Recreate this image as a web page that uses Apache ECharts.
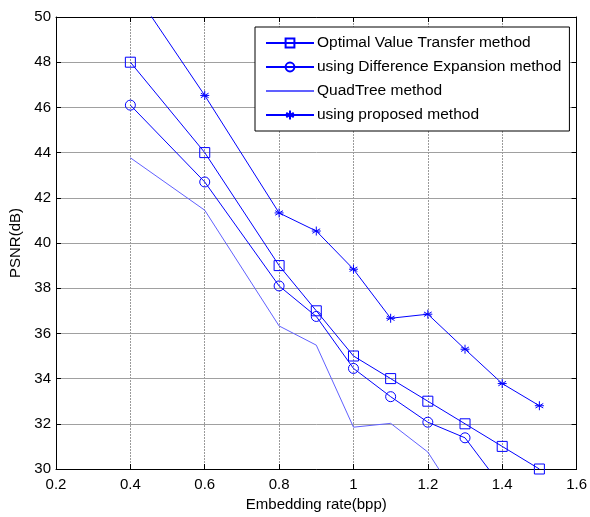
<!DOCTYPE html>
<html>
<head>
<meta charset="utf-8">
<script src="https://cdn.jsdelivr.net/npm/echarts@6/dist/echarts.min.js"></script>
<style>
  html, body { margin: 0; padding: 0; background: #fff; }
  #chart { width: 590px; height: 517px; }
</style>
</head>
<body>
<div id="chart"></div>
<script>
// embedding rate (bpp) for each curve
const rateOvt = [0.4, 0.6, 0.8, 0.9, 1.0, 1.1, 1.2, 1.3, 1.4, 1.5]
const psnrOvt = [48, 44, 39, 37, 35, 34, 33, 32, 31, 30]

const rateDe = [0.4, 0.6, 0.8, 0.9, 1.0, 1.1, 1.2, 1.3, 1.4]
const psnrDe = [46.1, 42.7, 38.1, 36.75, 34.45, 33.2, 32.07, 31.38, 29.2]

const rateQt = [0.4, 0.6, 0.8, 0.9, 1.0, 1.1, 1.2, 1.3]
const psnrQt = [43.77, 41.45, 36.33, 35.48, 31.85, 32.02, 30.75, 28.2]

const rateProp = [0.4, 0.6, 0.8, 0.9, 1.0, 1.1, 1.2, 1.3, 1.4, 1.5]
const psnrProp = [51.4, 46.53, 41.33, 40.53, 38.84, 36.67, 36.85, 35.3, 33.78, 32.8]

const seriesNames = [
  'Optimal Value Transfer method',
  'using Difference Expansion method',
  'QuadTree method',
  'using proposed method',
]

function pairs(xs, ys) {
  return xs.map((x, i) => [x, ys[i]])
}

const blue = '#0000ff'
const lightBlue = '#6060ff'
const asterisk = 'path://M5 0 L5 10 M0.7 2.5 L9.3 7.5 M0.7 7.5 L9.3 2.5 M0 5 L10 5'

const chart = echarts.init(document.getElementById('chart'))

const markerStyle = { color: 'rgba(0,0,0,0)', borderColor: blue, borderWidth: 1 }

chart.setOption({
  animation: false,
  textStyle: { fontFamily: 'Liberation Sans, Arial, sans-serif' },
  grid: { left: 56, top: 17, right: 13, bottom: 48 },
  legend: {
    orient: 'vertical',
    left: 255,
    top: 27,
    padding: [8, 8, 8, 10],
    itemWidth: 48,
    itemHeight: 11,
    itemGap: 8,
    backgroundColor: '#fff',
    borderColor: '#000',
    borderWidth: 1,
    textStyle: { fontSize: 15.5, color: '#000', padding: [0, 0, 0, -2] },
    data: [
      seriesNames[0],
      seriesNames[1],
      { name: seriesNames[2], itemStyle: { color: 'rgba(0,0,0,0)', borderColor: 'rgba(0,0,0,0)' } },
      seriesNames[3],
    ],
  },
  xAxis: [
    {
      type: 'value',
      min: 0.2,
      max: 1.6,
      interval: 0.2,
      name: 'Embedding rate(bpp)',
      nameLocation: 'middle',
      nameGap: 22,
      nameTextStyle: { fontSize: 15, color: '#000' },
      axisLine: { lineStyle: { color: '#000', width: 1 } },
      axisTick: { inside: true, length: 5, lineStyle: { color: '#000' } },
      axisLabel: { fontSize: 15, color: '#000', margin: 8 },
      splitLine: { show: true, lineStyle: { color: '#9a9a9a', type: [2, 1] } },
    },
    {
      type: 'value',
      position: 'top',
      min: 0.2,
      max: 1.6,
      interval: 0.2,
      axisLine: { lineStyle: { color: '#000' } },
      axisTick: { inside: true, length: 5, lineStyle: { color: '#000' } },
      axisLabel: { show: false },
      splitLine: { show: false },
    },
  ],
  yAxis: [
    {
      type: 'value',
      min: 30,
      max: 50,
      interval: 2,
      name: 'PSNR(dB)',
      nameLocation: 'middle',
      nameGap: 31,
      nameTextStyle: { fontSize: 15, color: '#000' },
      axisLine: { show: true, lineStyle: { color: '#000' } },
      axisTick: { show: true, inside: true, length: 5, lineStyle: { color: '#000' } },
      axisLabel: { fontSize: 15, color: '#000', margin: 5 },
      splitLine: { show: true, lineStyle: { color: '#a0a0a0', width: 1 } },
    },
    {
      type: 'value',
      position: 'right',
      min: 30,
      max: 50,
      interval: 2,
      axisLine: { show: true, lineStyle: { color: '#000' } },
      axisTick: { show: true, inside: true, length: 5, lineStyle: { color: '#000' } },
      axisLabel: { show: false },
      splitLine: { show: false },
    },
  ],
  series: [
    {
      name: seriesNames[0],
      type: 'line',
      data: pairs(rateOvt, psnrOvt),
      color: blue,
      symbol: 'rect',
      symbolSize: 10,
      lineStyle: { color: blue, width: 1 },
      itemStyle: markerStyle,
    },
    {
      name: seriesNames[1],
      type: 'line',
      data: pairs(rateDe, psnrDe),
      color: blue,
      symbol: 'circle',
      symbolSize: 10,
      lineStyle: { color: blue, width: 1 },
      itemStyle: markerStyle,
    },
    {
      name: seriesNames[2],
      type: 'line',
      data: pairs(rateQt, psnrQt),
      color: lightBlue,
      symbol: 'none',
      lineStyle: { color: lightBlue, width: 1 },
    },
    {
      name: seriesNames[3],
      type: 'line',
      data: pairs(rateProp, psnrProp),
      color: blue,
      symbol: asterisk,
      symbolSize: 9,
      lineStyle: { color: blue, width: 1 },
      itemStyle: markerStyle,
    },
  ],
})
</script>
</body>
</html>
